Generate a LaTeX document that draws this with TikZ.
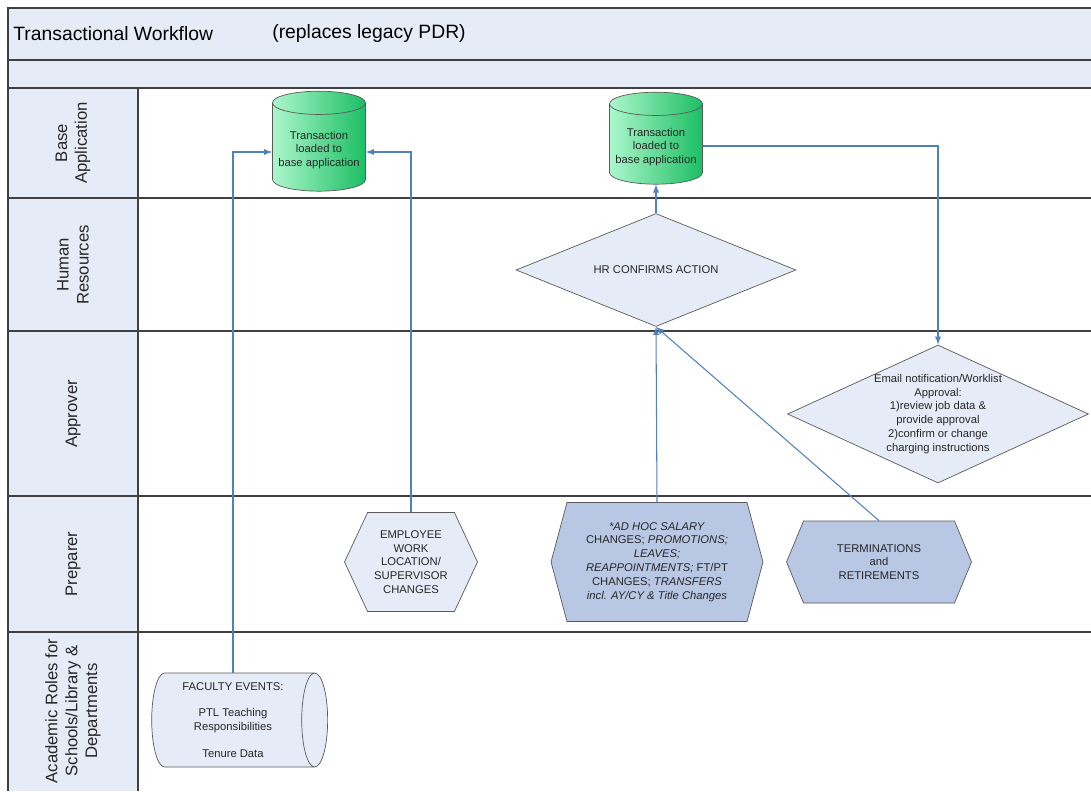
\documentclass[tikz,border=0pt]{standalone}
\usepackage{fontspec}
\setmainfont{Liberation Sans}
\usetikzlibrary{shapes.geometric,shapes.symbols}

\definecolor{lanefill}{RGB}{230,236,247}
\definecolor{hexdark}{RGB}{184,200,228}
\definecolor{flowblue}{RGB}{79,129,189}
\definecolor{cyllight}{RGB}{172,247,204}
\definecolor{cyldark}{RGB}{28,190,100}
\definecolor{edgegray}{RGB}{90,90,90}

\tikzset{
  frame/.style={draw=black!75,line width=0.6pt},
  lanelabel/.style={rotate=90,align=center,text=black!85,font=\fontsize{9.5}{11.3}\selectfont},
  small/.style={align=center,text=black!85,font=\fontsize{6.4}{7.9}\selectfont},
  dbase/.style={small,cylinder,shape border rotate=90,aspect=0.25,draw=edgegray,
    left color=cyllight,right color=cyldark,minimum width=1.8cm},
  decision/.style={small,diamond,aspect=2.5,draw=edgegray,fill=lanefill,inner sep=0pt},
  hexbox/.style={small,signal,signal to=west and east,draw=edgegray,inner sep=1pt},
  flow/.style={->,draw=flowblue,line width=0.6pt}
}

\begin{document}
\begin{tikzpicture}[>=latex,x=0.02cm,y=-0.02cm]
\useasboundingbox (0,0) rectangle (1091,791);

% swimlanes
\fill[lanefill] (8,8) rectangle (1091,88);
\fill[lanefill] (8,88) rectangle (138,791);
\draw[frame] (8,791) -- (8,8) -- (1091,8);
\foreach \y in {60,88,198,331,496,632}
  \draw[frame] (8,\y) -- (1091,\y);
\draw[frame] (138,88) -- (138,791);

\node[anchor=west,inner sep=0pt,font=\fontsize{11}{13}\selectfont] (title) at (13,34) {Transactional Workflow};
\node[anchor=west,inner sep=0pt,font=\fontsize{11}{13}\selectfont] (subtitle) at (272,34) {(replaces legacy PDR)};

\node[lanelabel] (lbase) at (73,143) {Base\\Application};
\node[lanelabel] (lhr) at (73,265) {Human\\Resources};
\node[lanelabel] (lappr) at (73,414) {Approver};
\node[lanelabel] (lprep) at (73,564) {Preparer};
\node[lanelabel] (lacad) at (73,711) {Academic Roles for\\Schools/Library \&\\Departments};

% nodes
\node[dbase,minimum height=2.0cm] (cylA) at (319,150) {Transaction\\loaded to\\base application};
\node[dbase,minimum height=1.84cm] (cylB) at (656,147) {Transaction\\loaded to\\base application};

\node[decision,minimum width=5.6cm,minimum height=2.26cm] (hr) at (656,270) {HR CONFIRMS ACTION};
\node[decision,minimum width=6.02cm,minimum height=2.76cm] (appr) at (938,414) {};
\node[small] (apprtxt) at (appr.center)
  {Email notification/Worklist\\Approval:\\1)review job data \&\\provide approval\\2)confirm or change\\charging instructions};

\node[hexbox,fill=lanefill,minimum width=2.66cm,minimum height=1.98cm,signal pointer angle=130] (emp) at (411,562)
  {EMPLOYEE\\WORK\\LOCATION/\\SUPERVISOR\\CHANGES};
\node[hexbox,fill=hexdark,minimum width=4.24cm,minimum height=2.38cm,signal pointer angle=150] (adhoc) at (657,562)
  {\textit{*AD HOC SALARY}\\CHANGES; \textit{PROMOTIONS;}\\\textit{LEAVES;}\\\textit{REAPPOINTMENTS;} FT/PT\\CHANGES; \textit{TRANSFERS}\\\textit{incl. AY/CY \& Title Changes}};
\node[hexbox,fill=hexdark,minimum width=3.7cm,minimum height=1.64cm,signal pointer angle=135] (term) at (879,562)
  {TERMINATIONS\\and\\RETIREMENTS};

\node[small,cylinder,aspect=0.35,inner sep=0pt,draw=edgegray,fill=lanefill,minimum width=1.88cm,minimum height=3.52cm] (fac) at (233,720)
  {FACULTY EVENTS:\\[7pt]PTL Teaching\\Responsibilities\\[7pt]Tenure Data};

% connectors
\draw[flow] (fac.north) |- ([yshift=-0.04cm]cylA.west);
\draw[flow] (emp.north) |- ([yshift=-0.04cm]cylA.east);
\draw[flow] (adhoc.north) -- (hr.south);
\draw[flow] (term.north) -- (hr.south);
\draw[flow] (hr.north) -- (cylB.south);
\draw[flow] ([yshift=0.02cm]cylB.east) -| (appr.north);
\end{tikzpicture}
\end{document}
